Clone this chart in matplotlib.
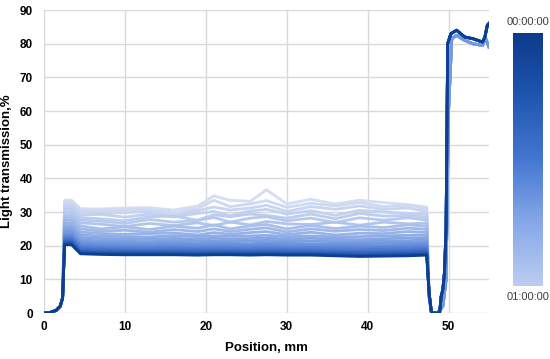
import numpy as np
import matplotlib
matplotlib.use("Agg")
import matplotlib.pyplot as plt
from matplotlib.colors import LinearSegmentedColormap

plt.rcParams['font.family'] = ['Liberation Sans Narrow', 'Liberation Sans', 'DejaVu Sans']

# shared left ramp (before the first edge)
ramp_x = [0, 0.8, 1.5, 2.0, 2.3]
ramp_y = [0, 0.2, 0.8, 2.0, 4.5]

# left peak level per curve, darkest (00:00:00) to lightest (01:00:00)
peaks = [20.3, 20.6, 21.0, 21.3, 21.8, 22.2, 22.7, 23.3, 24.0, 24.6, 25.3,
         26.0, 26.8, 27.6, 28.4, 29.2, 30.0, 30.8, 31.6, 32.3, 33.0, 33.5]

# plateau positions and values per curve
plateau_x = [4.5, 7, 10, 13, 16, 19, 21, 23, 25.5, 27.5, 30, 33, 36, 39, 42, 45, 47.3]
plateau = [
    [17.6, 17.4, 17.3, 17.3, 17.3, 17.2, 17.3, 17.3, 17.2, 17.3, 17.2, 17.2, 17.0, 16.8, 16.9, 17.0, 17.2],
    [17.9, 17.7, 17.6, 17.6, 17.6, 17.5, 17.6, 17.6, 17.5, 17.6, 17.5, 17.5, 17.3, 17.1, 17.2, 17.3, 17.5],
    [18.2, 18.0, 17.9, 17.9, 17.9, 17.8, 17.9, 17.9, 17.8, 17.9, 17.8, 17.8, 17.6, 17.5, 17.6, 17.7, 17.9],
    [18.6, 18.4, 18.3, 18.2, 18.3, 18.2, 18.3, 18.2, 18.2, 18.3, 18.2, 18.1, 18.0, 17.9, 18.0, 18.1, 18.3],
    [19.0, 18.8, 18.7, 18.6, 18.7, 18.6, 18.7, 18.6, 18.6, 18.7, 18.6, 18.5, 18.4, 18.3, 18.5, 18.6, 18.8],
    [19.5, 19.2, 19.1, 19.0, 19.2, 19.0, 19.1, 19.1, 19.0, 19.2, 19.0, 19.0, 18.9, 18.8, 19.0, 19.1, 19.3],
    [20.0, 19.7, 19.6, 19.5, 19.7, 19.5, 19.6, 19.6, 19.5, 19.7, 19.5, 19.5, 19.4, 19.3, 19.5, 19.6, 19.8],
    [20.6, 20.2, 20.1, 20.0, 20.2, 20.1, 20.1, 20.2, 20.0, 20.3, 20.1, 20.0, 20.0, 19.9, 20.0, 20.2, 20.4],
    [21.2, 20.8, 20.7, 20.6, 20.8, 20.6, 20.9, 20.7, 20.6, 20.9, 20.7, 20.6, 20.6, 20.5, 20.7, 20.8, 21.0],
    [21.8, 21.4, 21.3, 21.2, 21.5, 21.3, 21.4, 21.3, 21.4, 21.6, 21.3, 21.4, 21.2, 21.1, 21.4, 21.5, 21.7],
    [22.5, 22.1, 22.0, 21.9, 22.2, 21.9, 22.2, 22.0, 22.1, 22.3, 22.0, 22.2, 21.9, 21.8, 22.1, 22.3, 22.4],
    [23.3, 22.8, 22.7, 22.6, 23.0, 22.7, 22.9, 22.8, 22.9, 23.1, 22.7, 22.9, 22.6, 22.7, 22.9, 23.1, 23.2],
    [24.1, 23.6, 23.4, 23.6, 23.8, 23.2, 23.9, 23.4, 23.9, 24.2, 23.3, 24.0, 23.2, 23.7, 23.6, 24.2, 24.0],
    [25.0, 24.3, 24.6, 24.0, 24.8, 24.2, 25.0, 24.2, 24.9, 25.3, 24.1, 25.0, 24.3, 24.8, 24.5, 25.2, 24.9],
    [25.9, 25.0, 25.6, 24.8, 25.8, 25.2, 26.2, 25.0, 25.9, 26.3, 25.0, 26.0, 25.1, 25.8, 25.4, 26.2, 25.8],
    [26.8, 26.4, 25.7, 26.6, 26.0, 26.8, 26.0, 27.0, 26.2, 27.2, 26.5, 26.3, 27.0, 26.1, 27.0, 26.5, 26.7],
    [27.6, 27.3, 26.6, 27.8, 27.0, 27.5, 28.4, 27.0, 28.2, 28.6, 27.4, 28.2, 26.9, 28.3, 27.6, 28.3, 27.6],
    [28.4, 28.0, 27.4, 28.6, 28.8, 27.6, 29.2, 28.6, 29.4, 29.0, 28.2, 29.4, 28.0, 29.6, 28.8, 29.0, 28.5],
    [29.2, 29.3, 28.5, 29.4, 28.5, 29.6, 30.2, 29.0, 30.3, 30.8, 29.4, 30.4, 29.0, 30.5, 30.0, 29.6, 29.4],
    [30.0, 29.8, 29.8, 30.2, 29.0, 30.4, 31.5, 30.6, 31.2, 32.0, 30.2, 31.6, 30.8, 31.8, 30.8, 31.2, 30.2],
    [30.6, 30.4, 30.6, 30.8, 29.8, 31.0, 33.5, 31.6, 32.4, 33.4, 31.4, 32.6, 31.8, 32.8, 31.6, 32.0, 31.0],
    [31.0, 30.9, 31.2, 31.3, 30.6, 31.8, 34.8, 33.5, 33.2, 36.6, 32.4, 33.8, 32.4, 33.5, 32.8, 32.2, 31.5],
]

# right side (drop, empty gap, reference window)
right_dark_x = [47.6, 47.9, 48.9, 49.1, 49.3, 49.5, 49.7, 49.9, 50.3, 51.0, 52.0, 53.0, 54.2, 54.5, 54.8, 55]
right_dark_y = [6, 0, 0, 5, 7, 12, 25, 80, 83, 84, 82, 81.5, 80.5, 82, 85.5, 86]
right_light_x = [47.6, 47.9, 48.6, 49.3, 49.7, 50.0, 50.4, 51.0, 52.0, 53.0, 54.2, 54.6, 55]
right_light_y = [5, 0, 0, 2, 10, 60, 81.5, 82.5, 81, 80, 79.5, 81.5, 79]

cmap = LinearSegmentedColormap.from_list(
    "tr", ["#bccdf1", "#86a8e8", "#4577d2", "#1f55b0", "#0b3a8a"])
line_cmap = LinearSegmentedColormap.from_list(
    "lines", ["#d3ddf3", "#aec3ec", "#7b9fe2", "#3f70cc", "#0d3f91"])

fig = plt.figure(figsize=(5.5, 3.59), dpi=100)
ax = fig.add_axes([0.08, 0.128, 0.809, 0.844])

n = len(peaks)
for i in range(n):
    t = i / (n - 1)
    if i < 8:
        rx, ry = right_dark_x, right_dark_y
    else:
        rx, ry = right_light_x, right_light_y
    xs = ramp_x + [2.55, 3.4] + plateau_x + rx
    ys = ramp_y + [peaks[i], peaks[i]] + plateau[i] + ry
    ax.plot(xs, ys, color=line_cmap(1 - t ** 0.8), lw=2.0,
            solid_joinstyle='round', zorder=3 + (n - i) * 0.01)

ax.set_xlim(0, 55)
ax.set_ylim(0, 90)
ax.set_xticks([0, 10, 20, 30, 40, 50])
ax.set_yticks(range(0, 91, 10))
ax.grid(True, color='#d9d9d9', lw=1.0, zorder=0)
for s in ax.spines.values():
    s.set_visible(False)
ax.tick_params(length=0, labelsize=8.5, pad=8)
for lab in ax.get_xticklabels() + ax.get_yticklabels():
    lab.set_fontweight('bold')
ax.tick_params(axis='x', pad=6)
ax.set_xlabel("Position, mm", fontsize=9.5, fontweight='bold', labelpad=6)
ax.set_ylabel("Light transmission,%", fontsize=9.5, fontweight='bold', labelpad=5)

# colour bar
cax = fig.add_axes([0.933, 0.203, 0.0545, 0.705])
grad = np.linspace(1, 0, 256).reshape(-1, 1)
cax.imshow(grad, aspect='auto', cmap=cmap, extent=[0, 1, 0, 1])
cax.set_xticks([])
cax.set_yticks([])
for s in cax.spines.values():
    s.set_visible(False)
fig.text(0.96, 0.94, "00:00:00", ha='center', va='center', fontsize=8, color='#404040')
fig.text(0.96, 0.172, "01:00:00", ha='center', va='center', fontsize=8, color='#404040')

fig.savefig("out.png", dpi=100)
